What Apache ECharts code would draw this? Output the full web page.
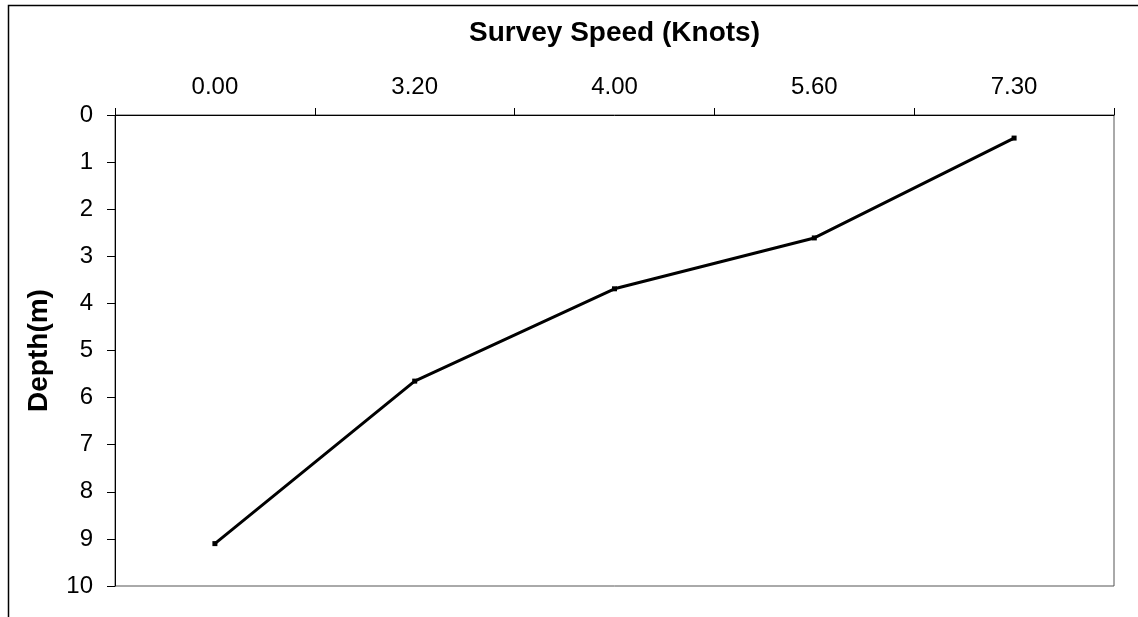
<!DOCTYPE html>
<html>
<head>
<meta charset="utf-8">
<script src="https://cdn.jsdelivr.net/npm/echarts@6/dist/echarts.min.js"></script>
<style>html,body{margin:0;padding:0;background:#fff}#c{width:1138px;height:617px}</style>
</head>
<body>
<div id="c"></div>
<script>
var categories = ['0.00', '3.20', '4.00', '5.60', '7.30'];
var depths = [9.1, 5.65, 3.69, 2.61, 0.49];
var yTicks = [0, 1, 2, 3, 4, 5, 6, 7, 8, 9, 10];

var chart = echarts.init(document.getElementById('c'));
chart.setOption({
  animation: false,
  backgroundColor: '#fff',
  graphic: [{
    type: 'rect', silent: true, z: -1,
    shape: { x: 8.5, y: 5.5, width: 1200, height: 700 },
    style: { fill: 'none', stroke: '#000', lineWidth: 1.5 }
  }],
  grid: {
    left: 115, top: 115, width: 999, height: 471,
    show: true, borderColor: '#555', borderWidth: 1, backgroundColor: 'transparent'
  },
  xAxis: {
    type: 'category',
    position: 'top',
    data: categories,
    boundaryGap: true,
    name: 'Survey Speed (Knots)',
    nameLocation: 'middle',
    nameGap: 68,
    nameTextStyle: { fontFamily: 'Liberation Sans', fontWeight: 'bold', fontSize: 28, color: '#000' },
    axisLine: { lineStyle: { color: '#000', width: 1 } },
    axisTick: { show: true, length: 7, lineStyle: { color: '#000' } },
    axisLabel: { margin: 16, fontFamily: 'Liberation Sans', fontSize: 24, color: '#000' },
    splitLine: { show: false }
  },
  yAxis: {
    type: 'value',
    inverse: true,
    min: yTicks[0], max: yTicks[yTicks.length - 1], interval: 1,
    name: 'Depth(m)',
    nameLocation: 'middle',
    nameRotate: 90,
    nameGap: 62,
    nameTextStyle: { fontFamily: 'Liberation Sans', fontWeight: 'bold', fontSize: 28, color: '#000' },
    axisLine: { show: true, lineStyle: { color: '#000', width: 1 } },
    axisTick: { show: true, length: 8, lineStyle: { color: '#000' } },
    axisLabel: { margin: 22, fontFamily: 'Liberation Sans', fontSize: 24, color: '#000' },
    splitLine: { show: false }
  },
  series: [{
    type: 'line',
    data: depths,
    symbol: 'rect',
    symbolSize: 5,
    itemStyle: { color: '#000' },
    lineStyle: { color: '#000', width: 3 }
  }]
});
</script>
</body>
</html>
